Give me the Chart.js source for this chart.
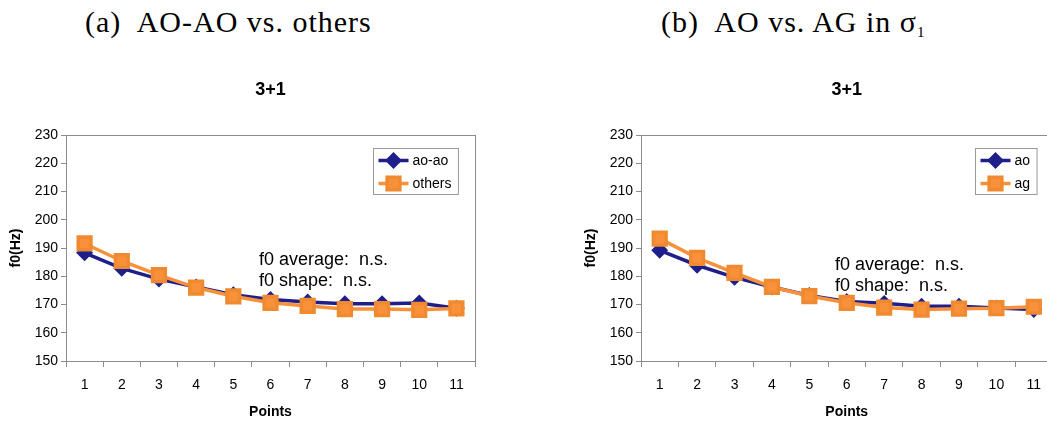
<!DOCTYPE html>
<html>
<head>
<meta charset="utf-8">
<script src="https://cdn.jsdelivr.net/npm/chart.js@4.4.0/dist/chart.umd.min.js"></script>
<style>
  body { margin: 0; width: 1047px; height: 421px; overflow: hidden; position: relative; background: #fff; }
  .cap { position: absolute; top: 7px; font-family: "Liberation Serif", serif; font-size: 30px; line-height: 30px; letter-spacing: 1px; white-space: pre; color: #000; }
  .cap sub { font-size: 15px; vertical-align: -5px; line-height: 0; letter-spacing: 0; }
  .box { position: absolute; top: 70px; width: 490px; height: 351px; }
</style>
</head>
<body>
<div class="cap" style="left:85px">(a)  AO-AO vs. others</div>
<div class="cap" style="left:661px">(b)  AO vs. AG in σ<sub>1</sub></div>
<div class="box" style="left:0px"><canvas id="left"></canvas></div>
<div class="box" style="left:575px"><canvas id="right"></canvas></div>
<script>
const points = ['1', '2', '3', '4', '5', '6', '7', '8', '9', '10', '11'];
const aoAoValues = [188.3, 182.8, 179.0, 176.2, 173.5, 171.8, 170.9, 170.3, 170.3, 170.5, 168.7];
const othersValues = [191.6, 185.4, 180.4, 176.0, 172.9, 170.6, 169.5, 168.4, 168.4, 168.1, 168.6];
const aoValues = [189.2, 183.9, 179.6, 176.2, 173.2, 171.1, 170.4, 169.4, 169.4, 168.8, 168.2];
const agValues = [193.3, 186.5, 181.2, 176.2, 173.0, 170.6, 168.9, 168.2, 168.5, 168.7, 169.2];
const chartTitle = '3+1';
const notes = ['f0 average:  n.s.', 'f0 shape:  n.s.'];

const NAVY = '#1f1f8c';
const ORANGE = '#f8913a';
const FONT = '"Liberation Sans", Arial, sans-serif';

// plot frame, inside legend box and the n.s. notes
const extras = {
  id: 'extras',
  afterDraw(chart, args, opts) {
    const ctx = chart.ctx;
    const a = chart.chartArea;
    ctx.save();
    ctx.strokeStyle = '#8c8c8c';
    ctx.lineWidth = 1;
    ctx.strokeRect(Math.round(a.left) + 0.5, Math.round(a.top) + 0.5,
      Math.round(a.right - a.left), Math.round(a.bottom - a.top));

    // legend
    ctx.font = '14px ' + FONT;
    const sets = chart.data.datasets;
    let tw = 0;
    sets.forEach(d => { tw = Math.max(tw, ctx.measureText(d.label).width); });
    const bw = 5 + 30 + 4 + tw + 7;
    const bx = Math.round(a.right - opts.legendRight - bw) + 0.5;
    const by = Math.round(a.top + 13) + 0.5;
    ctx.fillStyle = '#fff';
    ctx.fillRect(bx, by, bw, 46);
    ctx.strokeStyle = '#9a9a9a';
    ctx.strokeRect(bx, by, bw, 46);
    sets.forEach((d, i) => {
      const y = by + 12 + i * 23;
      ctx.strokeStyle = d.borderColor;
      ctx.lineWidth = d.borderWidth;
      ctx.beginPath();
      ctx.moveTo(bx + 5, y);
      ctx.lineTo(bx + 35, y);
      ctx.stroke();
      ctx.fillStyle = d.pointBackgroundColor;
      ctx.strokeStyle = d.pointBorderColor;
      Chart.helpers.drawPoint(ctx, {pointStyle: d.pointStyle, radius: d.pointRadius, borderWidth: 1}, bx + 20, y);
      ctx.fillStyle = '#000';
      ctx.textBaseline = 'middle';
      ctx.textAlign = 'left';
      ctx.fillText(d.label, bx + 39, y + 1);
    });

    // notes
    ctx.font = '18px ' + FONT;
    ctx.fillStyle = '#000';
    ctx.textBaseline = 'middle';
    notes.forEach((t, i) => {
      ctx.fillText(t, a.left + opts.noteX, a.top + opts.noteY + i * 21);
    });
    ctx.restore();
  }
};

function makeChart(id, names, first, second, padRight, noteX, noteY, legendRight) {
  return new Chart(document.getElementById(id), {
    type: 'line',
    data: {
      labels: points,
      datasets: [
        {
          label: names[0],
          data: first,
          borderColor: NAVY,
          borderWidth: 3.5,
          pointStyle: 'rectRot',
          pointRadius: 6,
          pointBackgroundColor: NAVY,
          pointBorderColor: NAVY,
          tension: 0,
          order: 1,
        },
        {
          label: names[1],
          data: second,
          borderColor: ORANGE,
          borderWidth: 3.5,
          pointStyle: 'rect',
          pointRadius: 9,
          pointBackgroundColor: ORANGE,
          pointBorderColor: '#f08a30',
          tension: 0,
          order: 0,
        },
      ],
    },
    options: {
      responsive: true,
      maintainAspectRatio: false,
      animation: false,
      events: [],
      layout: { padding: { right: padRight } },
      plugins: {
        legend: { display: false },
        tooltip: { enabled: false },
        title: {
          display: true,
          text: chartTitle,
          fullSize: false,
          color: '#000',
          font: { family: FONT, size: 18, weight: 'bold' },
          padding: { top: 9, bottom: 34.4 },
        },
        extras: { noteX, noteY, legendRight },
      },
      scales: {
        x: {
          type: 'category',
          offset: true,
          afterFit(scale) { scale.height = 60; },
          grid: { display: true, offset: true, drawOnChartArea: false, tickLength: 6, color: '#8c8c8c' },
          border: { display: true, color: '#8c8c8c' },
          ticks: { color: '#000', padding: 10, maxRotation: 0, font: { family: FONT, size: 14 } },
          title: {
            display: true,
            text: 'Points',
            color: '#000',
            font: { family: FONT, size: 14, weight: 'bold' },
            padding: { top: 0, bottom: 0 },
          },
        },
        y: {
          min: 150,
          max: 230,
          afterFit(scale) { scale.width = 66; },
          grid: { display: true, drawOnChartArea: false, tickLength: 5, color: '#8c8c8c' },
          border: { display: true, color: '#8c8c8c' },
          ticks: { stepSize: 10, color: '#000', padding: 3, font: { family: FONT, size: 14 } },
          title: {
            display: true,
            text: 'f0(Hz)',
            color: '#000',
            font: { family: FONT, size: 14, weight: 'bold' },
            padding: { top: 8, bottom: 0 },
          },
        },
      },
    },
    plugins: [extras],
  });
}

makeChart('left', ['ao-ao', 'others'], aoAoValues, othersValues, 15, 193, 125, 17);
makeChart('right', ['ao', 'ag'], aoValues, agValues, 10, 194, 130, 16);
</script>
</body>
</html>
